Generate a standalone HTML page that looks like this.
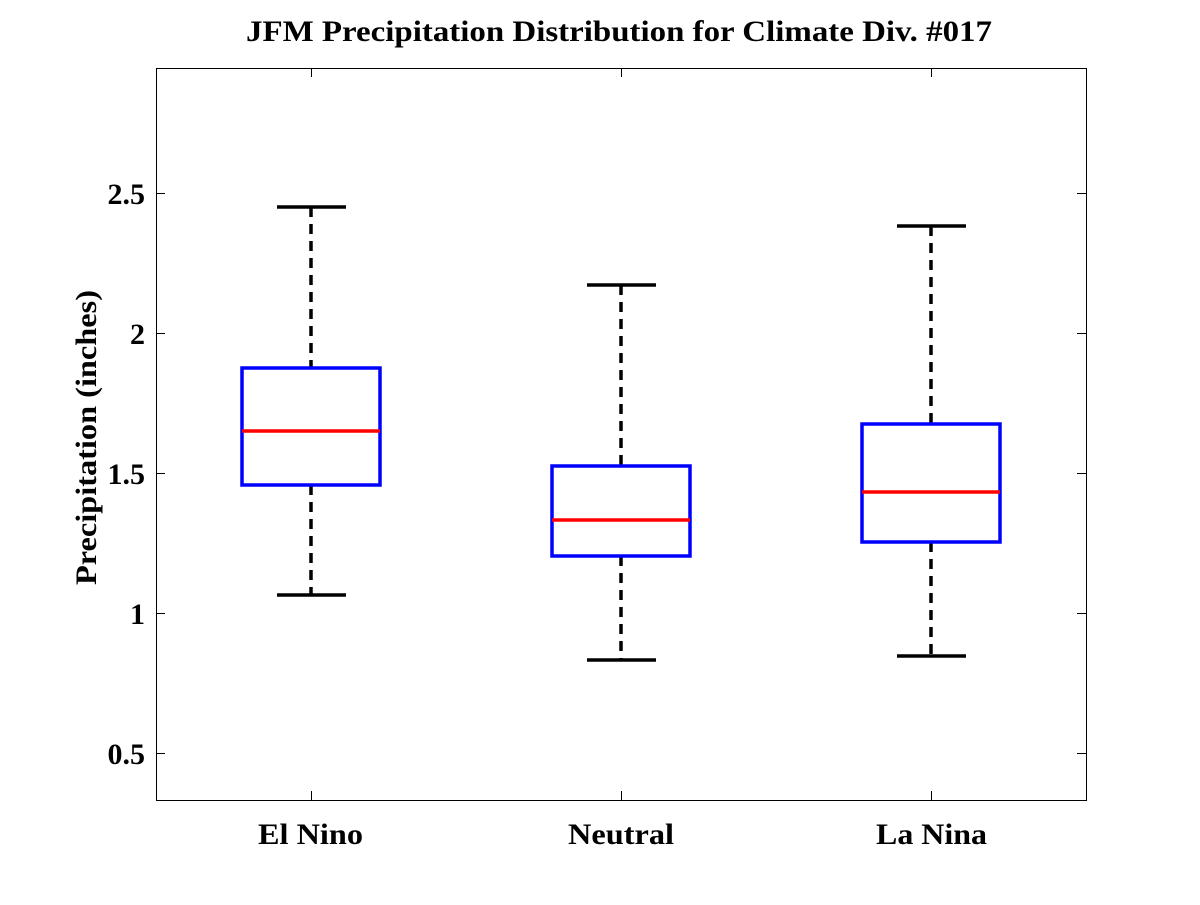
<!DOCTYPE html>
<html><head><meta charset="utf-8"><style>
html,body{margin:0;padding:0;background:#fff;}
svg text{font-family:"Liberation Serif",serif;font-weight:bold;fill:#000;}
</style></head><body>
<svg width="1200" height="900" xmlns="http://www.w3.org/2000/svg">
<rect width="1200" height="900" fill="#fff"/>
<text x="246" y="41" font-size="30" textLength="746" lengthAdjust="spacingAndGlyphs">JFM Precipitation Distribution for Climate Div. #017</text>
<rect x="156.5" y="68.5" width="930" height="732" fill="none" stroke="#000" stroke-width="1"/>
<g stroke="#000" stroke-width="1">
<line x1="156" y1="193.5" x2="165" y2="193.5"/><line x1="1086" y1="193.5" x2="1077" y2="193.5"/>
<line x1="156" y1="333.5" x2="165" y2="333.5"/><line x1="1086" y1="333.5" x2="1077" y2="333.5"/>
<line x1="156" y1="473.5" x2="165" y2="473.5"/><line x1="1086" y1="473.5" x2="1077" y2="473.5"/>
<line x1="156" y1="613.5" x2="165" y2="613.5"/><line x1="1086" y1="613.5" x2="1077" y2="613.5"/>
<line x1="156" y1="753.5" x2="165" y2="753.5"/><line x1="1086" y1="753.5" x2="1077" y2="753.5"/>
<line x1="311.5" y1="800" x2="311.5" y2="791"/><line x1="311.5" y1="68" x2="311.5" y2="77"/>
<line x1="621.5" y1="800" x2="621.5" y2="791"/><line x1="621.5" y1="68" x2="621.5" y2="77"/>
<line x1="931.5" y1="800" x2="931.5" y2="791"/><line x1="931.5" y1="68" x2="931.5" y2="77"/>
</g>
<g font-size="30" text-anchor="end">
<text x="145" y="204">2.5</text><text x="145" y="344">2</text><text x="145" y="484">1.5</text><text x="145" y="624">1</text><text x="145" y="764">0.5</text>
</g>
<g font-size="30">
<text x="258" y="844" textLength="105" lengthAdjust="spacingAndGlyphs">El Nino</text>
<text x="568" y="844" textLength="106" lengthAdjust="spacingAndGlyphs">Neutral</text>
<text x="876" y="844" textLength="111" lengthAdjust="spacingAndGlyphs">La Nina</text>
</g>
<text transform="translate(96,585) rotate(-90)" font-size="30" textLength="295" lengthAdjust="spacingAndGlyphs">Precipitation (inches)</text>
<g stroke-width="3.5" fill="none">
<line x1="311" y1="207" x2="311" y2="368" stroke="#000" stroke-dasharray="10,7"/>
<line x1="311" y1="485" x2="311" y2="595" stroke="#000" stroke-dasharray="10,7"/>
<line x1="277" y1="207" x2="346" y2="207" stroke="#000"/>
<line x1="277" y1="595" x2="346" y2="595" stroke="#000"/>
<rect x="242" y="368" width="138" height="117" stroke="#0000ff"/>
<line x1="242" y1="431" x2="380" y2="431" stroke="#ff0000"/>
<line x1="621" y1="285" x2="621" y2="466" stroke="#000" stroke-dasharray="10,7"/>
<line x1="621" y1="556" x2="621" y2="660" stroke="#000" stroke-dasharray="10,7"/>
<line x1="587" y1="285" x2="656" y2="285" stroke="#000"/>
<line x1="587" y1="660" x2="656" y2="660" stroke="#000"/>
<rect x="552" y="466" width="138" height="90" stroke="#0000ff"/>
<line x1="552" y1="520" x2="690" y2="520" stroke="#ff0000"/>
<line x1="931" y1="226" x2="931" y2="424" stroke="#000" stroke-dasharray="10,7"/>
<line x1="931" y1="542" x2="931" y2="656" stroke="#000" stroke-dasharray="10,7"/>
<line x1="897" y1="226" x2="966" y2="226" stroke="#000"/>
<line x1="897" y1="656" x2="966" y2="656" stroke="#000"/>
<rect x="862" y="424" width="138" height="118" stroke="#0000ff"/>
<line x1="862" y1="492" x2="1000" y2="492" stroke="#ff0000"/>
</g>
</svg>
</body></html>
